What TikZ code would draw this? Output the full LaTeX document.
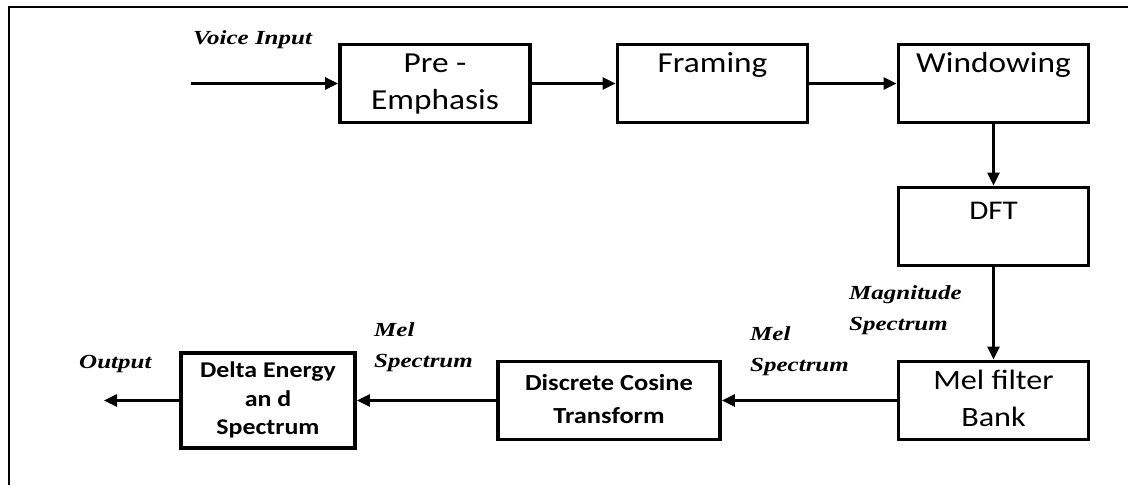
\documentclass[tikz,border=0pt]{standalone}
\usepackage{fontspec}
\setmainfont{Carlito}[FakeStretch=1.15]
\newfontfamily\tagfont{Liberation Serif}[FakeStretch=1.25]
\usetikzlibrary{arrows.meta}

\begin{document}
\begin{tikzpicture}[x=1pt, y=-1pt, >={Triangle[length=13pt,width=12pt]},
  block/.style={draw, line width=3.8pt, minimum width=190pt, minimum height=78pt, inner sep=0pt, align=center},
  flow/.style={->, line width=2.8pt},
  tag/.style={anchor=north west, inner sep=0pt, align=left, font=\tagfont\bfseries\itshape\fontsize{20}{31}\selectfont}]
  \useasboundingbox (0,0) rectangle (1128,485);
  % frame
  \draw[line width=2pt] (9,485) -- (9,7) -- (1128,7);
  % top row
  \node[block, font=\fontsize{29}{37}\selectfont] (pre) at (435,83.5) {\strut Pre -\\\strut Emphasis};
  \node[block, font=\fontsize{29}{37}\selectfont] (framing) at (712.5,83.5) {\strut Framing\\\strut};
  \node[block, font=\fontsize{29}{37}\selectfont] (win) at (993.5,83.5) {\strut Windowing\\\strut};
  % right column
  \node[block, font=\fontsize{27}{25}\selectfont] (dft) at (993.5,226.5) {\strut DFT\\\strut};
  \node[block, font=\fontsize{28}{37}\selectfont] (mel) at (993.5,400.5) {\strut Mel filter\\\strut Bank};
  % bottom row
  \node[block, minimum width=222pt, font=\bfseries\fontsize{23}{33}\selectfont] (dct) at (609,400.5) {\strut Discrete Cosine\\\strut Transform};
  \node[block, minimum width=174pt, minimum height=95pt, font=\bfseries\fontsize{22.5}{28.5}\selectfont] (delta) at (268,400.5) {\strut Delta Energy\\\strut an d\\\strut Spectrum};
  % free ends
  \coordinate (in) at (191,83.5);
  \coordinate (out) at (104,400.5);
  % connectors
  \draw[flow] (in) -- (pre);
  \draw[flow] (pre) -- (framing);
  \draw[flow] (framing) -- (win);
  \draw[flow] (win) -- (dft);
  \draw[flow] (dft) -- (mel);
  \draw[flow] (mel) -- (dct);
  \draw[flow] (dct) -- (delta);
  \draw[flow] (delta) -- (out);
  % labels
  \node[tag] (voice) at (193,23) {\strut Voice Input};
  \node[tag] (mag) at (849,278) {\strut Magnitude\\\strut Spectrum};
  \node[tag] (melspec) at (750,319) {\strut Mel\\\strut Spectrum};
  \node[tag] (melspec2) at (374,315) {\strut Mel\\\strut Spectrum};
  \node[tag] (output) at (79,347) {\strut Output};
\end{tikzpicture}
\end{document}
